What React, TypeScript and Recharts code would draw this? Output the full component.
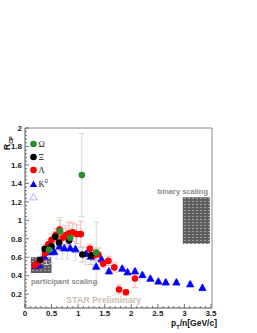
import React from "react";
import {
  ScatterChart,
  Scatter,
  XAxis,
  YAxis,
  ErrorBar,
  ReferenceArea,
  ReferenceLine,
} from "recharts";

// ---------------------------------------------------------------------------
// Data (pT/n, Rcp, error)
// ---------------------------------------------------------------------------

const omegaX = [0.45, 0.66, 0.85, 1.07, 1.34];
const omegaY = [0.68, 0.88, 0.81, 1.49, 0.65];
const omegaErr = [0.06, 0.15, 0.1, 0.45, 0.33];

const xiX = [0.28, 0.37, 0.5, 0.57, 0.64, 0.83, 1.08, 1.24];
const xiY = [0.57, 0.69, 0.72, 0.82, 0.76, 0.78, 0.63, 0.62];
const xiErr = [0.04, 0.05, 0.05, 0.06, 0.06, 0.07, 0.08, 0.1];

const lambdaX = [
  0.18, 0.24, 0.3, 0.38, 0.44, 0.5, 0.58, 0.65, 0.71, 0.77, 0.83, 0.9, 0.97,
  1.05, 1.22, 1.3, 1.38, 1.47, 1.57, 1.68, 1.77, 1.9, 2.07,
];
const lambdaY = [
  0.51, 0.54, 0.57, 0.64, 0.74, 0.79, 0.84, 0.9, 0.81, 0.84, 0.86, 0.87, 0.85,
  0.85, 0.69, 0.62, 0.63, 0.53, 0.56, 0.49, 0.25, 0.22, 0.37,
];
const lambdaErr = [
  0.02, 0.03, 0.03, 0.04, 0.05, 0.06, 0.07, 0.1, 0.1, 0.1, 0.12, 0.1, 0.1,
  0.14, 0.05, 0.06, 0.07, 0.04, 0.05, 0.05, 0.05, 0.03, 0.1,
];

const k0X = [
  0.2, 0.27, 0.36, 0.45, 0.55, 0.65, 0.74, 0.85, 0.95, 1.15, 1.24, 1.34, 1.44,
  1.58, 1.83, 1.93, 2.07, 2.21, 2.36, 2.51, 2.65, 2.85, 3.11, 3.34,
];
const k0Y = [
  0.51, 0.52, 0.61, 0.66, 0.66, 0.72, 0.7, 0.7, 0.69, 0.64, 0.61, 0.5, 0.58,
  0.45, 0.48, 0.44, 0.45, 0.41, 0.37, 0.34, 0.33, 0.33, 0.31, 0.27,
];
const k0Err = [
  0.02, 0.02, 0.02, 0.02, 0.02, 0.02, 0.02, 0.02, 0.02, 0.02, 0.02, 0.02, 0.02,
  0.02, 0.02, 0.02, 0.02, 0.02, 0.02, 0.02, 0.02, 0.02, 0.02, 0.03,
];

const k0OpenX = [0.3, 0.4, 0.5, 0.6, 0.7, 0.8, 0.95, 1.15, 1.3];
const k0OpenY = [0.58, 0.62, 0.65, 0.7, 0.71, 0.7, 0.68, 0.62, 0.6];
const k0OpenErr = [0.08, 0.1, 0.12, 0.12, 0.13, 0.12, 0.12, 0.1, 0.1];

const Y_LABELS = ["0.2", "0.4", "0.6", "0.8", "1", "1.2", "1.4", "1.6", "1.8", "2"];
const X_LABELS = ["0", "0.5", "1", "1.5", "2", "2.5", "3", "3.5"];

function toPoints(xs: number[], ys: number[], errs: number[]) {
  return xs.map((x, i) => ({ x, y: ys[i], err: errs[i] }));
}

const omega = toPoints(omegaX, omegaY, omegaErr);
const xi = toPoints(xiX, xiY, xiErr);
const lambda = toPoints(lambdaX, lambdaY, lambdaErr);
const k0 = toPoints(k0X, k0Y, k0Err);
const k0Open = toPoints(k0OpenX, k0OpenY, k0OpenErr);

// minor ticks: y every 0.04, x every 0.1
const yTicks: number[] = [];
for (let i = 2; i <= 50; i++) yTicks.push(+(i * 0.04).toFixed(2));
const xTicks: number[] = [];
for (let i = 0; i <= 35; i++) xTicks.push(+(i * 0.1).toFixed(1));

// ---------------------------------------------------------------------------
// Styles
// ---------------------------------------------------------------------------

const FONT = "'Liberation Sans', Arial, Helvetica, sans-serif";
const AXIS_COLOR = "#555";
const FRAME_COLOR = "#8a8a8a";
const TICK_MARGIN = 3;

function YTick(props: any) {
  const { x, y, payload } = props;
  const v = payload.value as number;
  const major = Math.round(v / 0.04) % 5 === 0;
  const ax = x + TICK_MARGIN;
  const label = Y_LABELS.find((l) => Math.abs(parseFloat(l) - v) < 1e-6);
  return (
    <g>
      <line x1={ax} x2={ax + (major ? 4 : 2)} y1={y} y2={y} stroke={AXIS_COLOR} strokeWidth={0.8} />
      {major && label && (
        <text x={ax - 3} y={y} dy="0.35em" textAnchor="end" fontSize={8} fontWeight={600} fontFamily={FONT} fill="#222">
          {label}
        </text>
      )}
    </g>
  );
}

function XTick(props: any) {
  const { x, y, payload } = props;
  const v = payload.value as number;
  const major = Math.round(v * 10) % 5 === 0;
  const ay = y - TICK_MARGIN;
  const label = X_LABELS.find((l) => Math.abs(parseFloat(l) - v) < 1e-6);
  return (
    <g>
      <line x1={x} x2={x} y1={ay} y2={ay - (major ? 4 : 2)} stroke={AXIS_COLOR} strokeWidth={0.8} />
      {major && label && (
        <text x={x} y={ay + 7.5} textAnchor="middle" fontSize={8} fontWeight={600} fontFamily={FONT} fill="#222">
          {label}
        </text>
      )}
    </g>
  );
}

const circle = (fill: string) => (p: any) => (
  <circle cx={p.cx} cy={p.cy} r={3.3} fill={fill} />
);

const triangle = (fill: string, stroke: string) => (p: any) => {
  const { cx, cy } = p;
  const s = 3.6;
  return (
    <polygon
      points={`${cx},${cy - s} ${cx - s},${cy + s * 0.8} ${cx + s},${cy + s * 0.8}`}
      fill={fill}
      stroke={stroke}
      strokeWidth={0.8}
    />
  );
};

const legendItems = [
  { label: "Ω", kind: "circle", color: "#2e8b2e" },
  { label: "Ξ", kind: "circle", color: "#000" },
  { label: "Λ", kind: "circle", color: "#ff0000" },
  { label: "K", sup: "0", kind: "tri", color: "#0000ff" },
  { label: "", kind: "open", color: "#9a9aff" },
];

const text: React.CSSProperties = {
  position: "absolute",
  fontFamily: FONT,
  fontWeight: 700,
  whiteSpace: "nowrap",
  lineHeight: 1,
};

export default function App() {
  return (
    <div style={{ position: "absolute", left: 0, top: 0, width: 257, height: 333, background: "#fff" }}>
      <ScatterChart
        width={257}
        height={333}
        margin={{ top: 128, right: 45, bottom: 0, left: 0 }}
      >
        <defs>
          <pattern id="hatch" width="4" height="3" patternUnits="userSpaceOnUse">
            <rect width="4" height="3" fill="#5e5e5e" />
            <rect width="2" height="1" fill="#a0a0a0" />
          </pattern>
        </defs>
        <XAxis
          type="number"
          dataKey="x"
          domain={[0, 3.52]}
          ticks={xTicks}
          interval={0}
          allowDataOverflow
          height={25}
          tickSize={0}
          tickMargin={TICK_MARGIN}
          tick={<XTick />}
          stroke={AXIS_COLOR}
        />
        <YAxis
          type="number"
          dataKey="y"
          domain={[0.05, 2]}
          ticks={yTicks}
          interval={0}
          allowDataOverflow
          width={25}
          tickSize={0}
          tickMargin={TICK_MARGIN}
          tick={<YTick />}
          stroke={AXIS_COLOR}
        />
        <ReferenceArea x1={0.11} x2={0.5} y1={0.43} y2={0.6} fill="url(#hatch)" fillOpacity={1} stroke="none" />
        <ReferenceArea x1={2.97} x2={3.48} y1={0.745} y2={1.25} fill="url(#hatch)" fillOpacity={1} stroke="none" />
        <ReferenceLine y={2} stroke={FRAME_COLOR} strokeWidth={1} />
        <ReferenceLine x={3.52} stroke={FRAME_COLOR} strokeWidth={1} />

        <Scatter data={k0Open} isAnimationActive={false} shape={triangle("none", "#b4b4fa")}>
          <ErrorBar dataKey="err" direction="y" width={2} stroke="#d6d6f8" strokeWidth={1} />
        </Scatter>
        <Scatter data={k0} isAnimationActive={false} shape={triangle("#0000ff", "#0000ff")}>
          <ErrorBar dataKey="err" direction="y" width={2} stroke="#b8b8f4" strokeWidth={1} />
        </Scatter>
        <Scatter data={lambda} isAnimationActive={false} shape={circle("#ff0000")}>
          <ErrorBar dataKey="err" direction="y" width={3} stroke="#f6b4b4" strokeWidth={1} />
        </Scatter>
        <Scatter data={xi} isAnimationActive={false} shape={circle("#000000")}>
          <ErrorBar dataKey="err" direction="y" width={3} stroke="#c4c4c4" strokeWidth={1} />
        </Scatter>
        <Scatter data={omega} isAnimationActive={false} shape={circle("#2e8b2e")}>
          <ErrorBar dataKey="err" direction="y" width={3} stroke="#c6e2c6" strokeWidth={1} />
        </Scatter>
      </ScatterChart>

      {/* legend */}
      {legendItems.map((it, i) => {
        const cy = 143.5 + i * 13.4;
        return (
          <div key={i} style={{ position: "absolute", left: 29, top: cy - 5, height: 10, display: "flex", alignItems: "center" }}>
            <svg width={9} height={10} style={{ display: "block" }}>
              {it.kind === "circle" && <circle cx={4.5} cy={5} r={3.3} fill={it.color} />}
              {it.kind === "tri" && <polygon points="4.5,1.4 0.9,7.9 8.1,7.9" fill={it.color} />}
              {it.kind === "open" && <polygon points="4.5,1.4 0.9,7.9 8.1,7.9" fill="none" stroke={it.color} strokeWidth={0.8} />}
            </svg>
            <span style={{ fontFamily: "'Liberation Serif', 'DejaVu Serif', serif", fontSize: 8.5, color: "#111", marginLeft: 0.5 }}>
              {it.label}
              {it.sup && <sup style={{ fontSize: 5.5, fontFamily: FONT }}>{it.sup}</sup>}
            </span>
          </div>
        );
      })}

      {/* axis titles */}
      <div style={{ ...text, left: 3, top: 150, fontSize: 8.5, fontWeight: 600, color: "#111", transform: "rotate(-90deg)", transformOrigin: "left top" }}>
        R<sub style={{ fontSize: 5.5 }}>CP</sub>
      </div>
      <div style={{ ...text, right: 257 - 217, top: 318.5, fontSize: 8.5, fontWeight: 600, color: "#111" }}>
        p<sub style={{ fontSize: 5.5 }}>T</sub>/n[GeV/c]
      </div>

      {/* annotations */}
      <div style={{ ...text, right: 257 - 208, top: 188, fontSize: 7.5, color: "#8c8c8c" }}>binary scaling</div>
      <div style={{ ...text, left: 31, top: 278, fontSize: 7.5, color: "#8c8c8c" }}>participant scaling</div>
      <div style={{ ...text, left: 66, top: 296, fontSize: 9, color: "#cbbfb2" }}>STAR Preliminary</div>
    </div>
  );
}
